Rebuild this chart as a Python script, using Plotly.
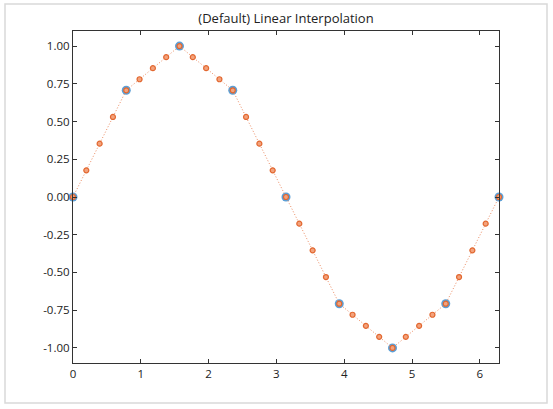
import plotly.graph_objects as go

# Coarse samples (blue)
x_coarse = [0.0, 0.7854, 1.5708, 2.3562, 3.1416, 3.9270, 4.7124, 5.4978, 6.2832]
y_coarse = [0.0, 0.7071, 1.0, 0.7071, 0.0, -0.7071, -1.0, -0.7071, 0.0]

# Linearly interpolated samples (orange)
x_fine = [0.0, 0.1963, 0.3927, 0.5890, 0.7854, 0.9817, 1.1781, 1.3744, 1.5708,
          1.7671, 1.9635, 2.1598, 2.3562, 2.5525, 2.7489, 2.9452, 3.1416,
          3.3379, 3.5343, 3.7306, 3.9270, 4.1233, 4.3197, 4.5160, 4.7124,
          4.9087, 5.1051, 5.3014, 5.4978, 5.6941, 5.8905, 6.0868, 6.2832]
y_fine = [0.0, 0.1768, 0.3536, 0.5303, 0.7071, 0.7803, 0.8536, 0.9268, 1.0,
          0.9268, 0.8536, 0.7803, 0.7071, 0.5303, 0.3536, 0.1768, 0.0,
          -0.1768, -0.3536, -0.5303, -0.7071, -0.7803, -0.8536, -0.9268, -1.0,
          -0.9268, -0.8536, -0.7803, -0.7071, -0.5303, -0.3536, -0.1768, 0.0]

x_ticks = [0, 1, 2, 3, 4, 5, 6]
y_ticks = [-1.0, -0.75, -0.5, -0.25, 0.0, 0.25, 0.5, 0.75, 1.0]
title = "(Default) Linear Interpolation"

fig = go.Figure()
fig.add_trace(go.Scatter(
    x=x_coarse, y=y_coarse, mode="markers",
    marker=dict(size=9, color="#5b9fd6", line=dict(width=0)),
    cliponaxis=False, showlegend=False))
fig.add_trace(go.Scatter(
    x=x_fine, y=y_fine, mode="lines+markers",
    line=dict(color="#ec8a60", width=1, dash="1px,2px"),
    marker=dict(size=5, color="#f3a27c", line=dict(width=1.2, color="#e2672f")),
    cliponaxis=False, showlegend=False))

W, H = 553, 409
L, R, T, B = 73, 54, 31, 46
pw, ph = W - L - R, H - T - B

def px_to_paper_x(px):
    return (px - L) / pw

def px_to_paper_y(py):
    return (H - B - py) / ph

fig.add_shape(type="rect", xref="paper", yref="paper",
              x0=px_to_paper_x(5), x1=px_to_paper_x(547),
              y0=px_to_paper_y(403), y1=px_to_paper_y(4),
              line=dict(color="#d9d9d9", width=1.5), layer="below")

axis_common = dict(
    showline=True, linecolor="#333333", linewidth=1.2, mirror="allticks",
    ticks="inside", ticklen=4, tickcolor="#333333", tickwidth=1,
    showgrid=False, zeroline=False,
    tickfont=dict(family="Open Sans, Noto Sans, sans-serif", size=11.5, color="#222222"),
)

fig.update_layout(
    width=W, height=H,
    margin=dict(l=L, r=R, t=T, b=B),
    paper_bgcolor="white", plot_bgcolor="white",
    title=dict(text=title, x=(L + pw / 2) / W, xanchor="center",
               y=1 - 18 / H, yanchor="middle",
               font=dict(family="Open Sans, Noto Sans, sans-serif", size=13, color="#222222")),
    xaxis=dict(range=[0, 6.2832], tickvals=x_ticks, ticktext=[str(v) for v in x_ticks], **axis_common),
    yaxis=dict(range=[-1.1, 1.1], tickvals=y_ticks, ticktext=[f"{v:.2f}" for v in y_ticks], **axis_common),
)

fig.write_html("out.html")
